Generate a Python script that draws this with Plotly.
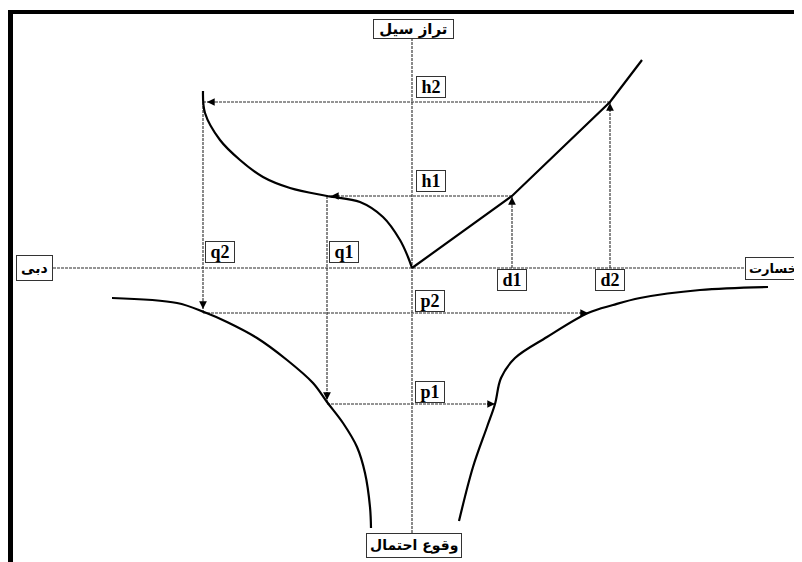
import plotly.graph_objects as go

# ---- data (diagram units: origin at the axes crossing, y upward) ----
# stage–discharge curve (upper-left): discharge (to the left) vs flood level
rating_q = [-209, -207, -192, -172, -149, -122, -85, -52, -29, -12, -4, 0]
rating_h = [177, 155, 128, 108, 91, 80, 72, 66, 51, 28, 11, 0]
# stage–damage curve (upper-right): damage vs flood level
damage_d = [0, 100, 198, 230]
damage_h = [0, 72, 166, 208]
# discharge–probability curve (lower-left)
freq_q = [-300, -235, -208, -185, -155, -125, -99, -85, -69, -55, -47, -42, -41]
freq_p = [-30, -35, -44, -54, -70, -92, -115, -134, -155, -179, -205, -239, -260]
# damage–probability curve (lower-right)
risk_d = [47, 61, 75, 83, 89, 103, 135, 176, 201, 228, 288, 356]
risk_p = [-253, -199, -159, -136, -110, -90, -69, -45, -37, -30, -22, -19]

# guide levels: index 0 -> "1", index 1 -> "2"
q_levels = [-85, -209]
h_levels = [72, 166]
d_levels = [100, 198]
p_levels = [-136, -45]
p_ends = [83, 176]
level_names = ["1", "2"]

# axis extents
axis_x_extent = [-359, 338]
axis_y_extent = [-265, 229]

# axis titles
title_top = "تراز سیل"
title_bottom = "وقوع احتمال"
title_left = "دبی"
title_right = "خسارت"

GUIDE = dict(color="#2a2a2a", width=1.1, dash="3px,1px")
CURVE = dict(color="black", width=2.2)

fig = go.Figure()

# axes
fig.add_trace(go.Scatter(x=axis_x_extent, y=[0, 0], mode="lines", line=GUIDE, hoverinfo="skip"))
fig.add_trace(go.Scatter(x=[0, 0], y=axis_y_extent, mode="lines", line=GUIDE, hoverinfo="skip"))

# guide lines
for q, h, d, p, pe in zip(q_levels, h_levels, d_levels, p_levels, p_ends):
    fig.add_trace(go.Scatter(x=[d, d], y=[0, h], mode="lines", line=GUIDE, hoverinfo="skip"))
    fig.add_trace(go.Scatter(x=[d, q], y=[h, h], mode="lines", line=GUIDE, hoverinfo="skip"))
    fig.add_trace(go.Scatter(x=[q, q], y=[h, p], mode="lines", line=GUIDE, hoverinfo="skip"))
    fig.add_trace(go.Scatter(x=[q, pe], y=[p, p], mode="lines", line=GUIDE, hoverinfo="skip"))

# curves
fig.add_trace(go.Scatter(x=rating_q, y=rating_h, mode="lines", line=dict(CURVE, shape="spline"), hoverinfo="skip"))
fig.add_trace(go.Scatter(x=damage_d, y=damage_h, mode="lines", line=CURVE, hoverinfo="skip"))
fig.add_trace(go.Scatter(x=freq_q, y=freq_p, mode="lines", line=dict(CURVE, shape="spline"), hoverinfo="skip"))
fig.add_trace(go.Scatter(x=risk_d, y=risk_p, mode="lines", line=dict(CURVE, shape="spline"), hoverinfo="skip"))

annotations = []


def arrow(x, y, ux, uy):
    annotations.append(dict(
        x=x, y=y, ax=x - 9 * ux, ay=y - 9 * uy, axref="x", ayref="y",
        xref="x", yref="y", text="", showarrow=True, arrowhead=2,
        arrowsize=1.1, arrowwidth=1.4, arrowcolor="black", standoff=0,
    ))


for q, h, d, p, pe in zip(q_levels, h_levels, d_levels, p_levels, p_ends):
    arrow(d, h - 1, 0, 1)      # up
    arrow(q + 4, h, -1, 0)     # left
    arrow(q, p + 4, 0, -1)     # down
    arrow(pe, p, 1, 0)         # right

LAB = dict(family="Liberation Serif, DejaVu Serif, serif", size=18, color="black")
NB = "\u00a0"


def boxed(text, x, y, xa, ya, font=LAB, pad=0):
    annotations.append(dict(
        x=x, y=y, xref="x", yref="y", text=text, showarrow=False,
        xanchor=xa, yanchor=ya, font=font, bgcolor="white",
        bordercolor="#333", borderwidth=1, borderpad=pad,
    ))


def lab(s):
    return "<b>" + NB + s + NB + "</b>"


for name, q, h, d, p in zip(level_names, q_levels, h_levels, d_levels, p_levels):
    boxed(lab("h" + name), 4, h + 4, "left", "bottom")
    boxed(lab("q" + name), q + 2, 5, "left", "bottom")
    boxed(lab("d" + name), d, -1, "center", "top")
    boxed(lab("p" + name), 3, p + 1, "left", "bottom")

FA = dict(family="DejaVu Sans, Noto Sans, sans-serif", size=15, color="black")
boxed("<b>" + NB + title_top + NB + "</b>", 1, axis_y_extent[1], "center", "bottom", FA, 0)
boxed("<b>" + title_bottom + "</b>", 2, axis_y_extent[0], "center", "top", dict(FA, size=14), 3)
boxed("<b>" + title_left + "</b>", axis_x_extent[0], 0, "right", "middle", dict(FA, size=14), 4)
boxed("<b>" + title_right + "</b>", 389, 0, "right", "middle", dict(FA, size=13), 3)

W, H = 794, 554  # page body keeps an 8px margin inside the 802x562 window
fig.update_layout(
    width=W, height=H,
    margin=dict(l=0, r=0, t=0, b=0),
    paper_bgcolor="white", plot_bgcolor="white",
    showlegend=False,
    xaxis=dict(range=[-404, 390], visible=False, fixedrange=True),
    yaxis=dict(range=[-294, 260], visible=False, fixedrange=True),
    annotations=annotations,
    shapes=[
        dict(type="line", xref="paper", yref="paper", x0=1 / W, x1=1,
             y0=1 - 4 / H, y1=1 - 4 / H, line=dict(color="black", width=4)),
        dict(type="line", xref="paper", yref="paper", x0=2.5 / W, x1=2.5 / W,
             y0=0, y1=1 - 2 / H, line=dict(color="black", width=5)),
    ],
)

fig.write_html("out.html")
